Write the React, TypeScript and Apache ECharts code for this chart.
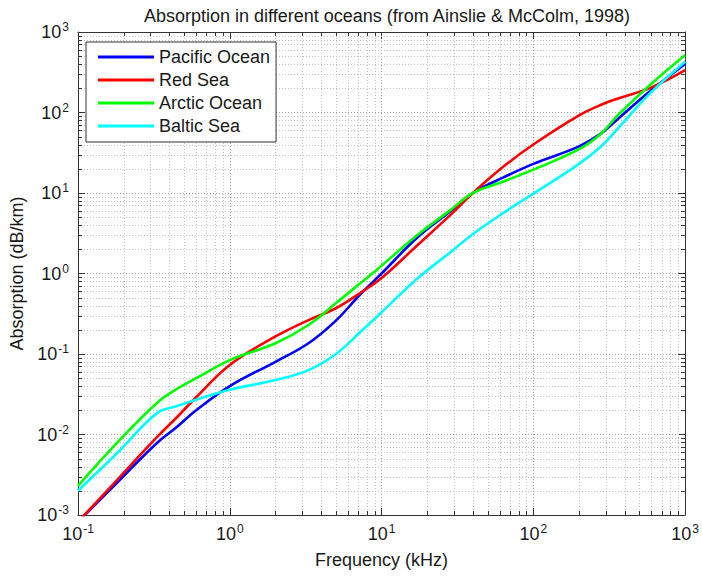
import React, { useEffect, useRef } from "react";
import * as echarts from "echarts";

// Frequencies (kHz) at which the curves were read
const FREQ_KHZ = [0.1, 0.18, 0.33, 0.45, 0.6, 1, 2, 3.3, 5, 7.3, 10, 17, 28, 40, 63, 100, 200, 280, 365, 600, 1000];
// Absorption (dB/km)
const PACIFIC = [0.00082, 0.0025, 0.0078, 0.0125, 0.02, 0.04, 0.08, 0.136, 0.26, 0.56, 1.0, 2.74, 5.8, 10, 15.5, 23, 38, 55, 85, 190, 400];
const RED_SEA = [0.00082, 0.0027, 0.0092, 0.0165, 0.029, 0.073, 0.165, 0.264, 0.37, 0.58, 0.88, 2.2, 5.2, 10, 21, 40, 92, 125, 150, 205, 335];
const ARCTIC = [0.0023, 0.0078, 0.0245, 0.037, 0.05, 0.084, 0.136, 0.229, 0.427, 0.766, 1.25, 2.95, 6.0, 10, 13.8, 19.5, 35, 55, 95, 228, 518];
const BALTIC = [0.002, 0.0058, 0.0183, 0.0226, 0.027, 0.036, 0.0475, 0.063, 0.1, 0.19, 0.33, 0.85, 1.8, 3.1, 5.6, 9.8, 23, 38, 65, 180, 428];

const SERIES_NAMES = ["Pacific Ocean", "Red Sea", "Arctic Ocean", "Baltic Sea"];
const SERIES_VALUES = [PACIFIC, RED_SEA, ARCTIC, BALTIC];
const SERIES_COLORS = ["#0000ff", "#ff0000", "#00ff00", "#00ffff"];

const X_MIN = 0.1;
const X_MAX = 1000;
const Y_MIN = 0.001;
const Y_MAX = 1000;
const X_DECADES = [0.1, 1, 10, 100];
const Y_DECADES = [0.001, 0.01, 0.1, 1, 10, 100];
const MINOR_MULT = [2, 3, 4, 5, 6, 7, 8, 9];

const TITLE = "Absorption in different oceans (from Ainslie & McColm, 1998)";
const X_NAME = "Frequency (kHz)";
const Y_NAME = "Absorption (dB/km)";

const FONT = "'Liberation Sans', Arial, Helvetica, sans-serif";
const AXIS_COLOR = "#333333";
const TEXT_COLOR = "#1a1a1a";

const X_MINOR = X_DECADES.flatMap((d) => MINOR_MULT.map((m) => m * d));
const Y_MINOR = Y_DECADES.flatMap((d) => MINOR_MULT.map((m) => m * d));

const expLabel = (v: number) => {
  const e = Math.round(Math.log10(v));
  return `{b|10}{s|${e}}`;
};

const labelRich = {
  b: { fontSize: 18, fontFamily: FONT, color: TEXT_COLOR, lineHeight: 22 },
  s: { fontSize: 12, fontFamily: FONT, color: TEXT_COLOR, verticalAlign: "top" as const, lineHeight: 22, padding: [0, 0, 0, 1] },
};

const px = (v: number) => Math.round(v) + 0.5;

export default function App() {
  const ref = useRef<HTMLDivElement>(null);

  useEffect(() => {
    if (!ref.current) return;
    const chart = echarts.init(ref.current, undefined, { renderer: "svg" });

    const lineSeries = SERIES_NAMES.map((name, i) => ({
      name,
      type: "line",
      xAxisIndex: 0,
      yAxisIndex: 0,
      data: FREQ_KHZ.map((f, j) => [f, SERIES_VALUES[i][j]]),
      showSymbol: false,
      symbol: "none",
      smooth: 0.4,
      lineStyle: { color: SERIES_COLORS[i], width: 2.6 },
      itemStyle: { color: SERIES_COLORS[i] },
      z: 5,
    }));

    const minorX = {
      type: "custom",
      xAxisIndex: 0,
      yAxisIndex: 0,
      silent: true,
      z: 1,
      clip: false,
      data: X_MINOR.map((v) => [v, 1]),
      renderItem: (_p: any, api: any) => {
        const v = api.value(0);
        const t = api.coord([v, Y_MAX]);
        const b = api.coord([v, Y_MIN]);
        const x = px(t[0]);
        return {
          type: "group",
          children: [
            { type: "line", shape: { x1: x, y1: t[1], x2: x, y2: b[1] }, style: { stroke: "#c2c2c2", lineWidth: 1, lineDash: [1, 2] } },
            { type: "line", shape: { x1: x, y1: b[1], x2: x, y2: b[1] - 4 }, style: { stroke: AXIS_COLOR, lineWidth: 1 } },
            { type: "line", shape: { x1: x, y1: t[1], x2: x, y2: t[1] + 4 }, style: { stroke: AXIS_COLOR, lineWidth: 1 } },
          ],
        };
      },
    };

    const minorY = {
      type: "custom",
      xAxisIndex: 0,
      yAxisIndex: 0,
      silent: true,
      z: 1,
      clip: false,
      data: Y_MINOR.map((v) => [1, v]),
      renderItem: (_p: any, api: any) => {
        const v = api.value(1);
        const l = api.coord([X_MIN, v]);
        const r = api.coord([X_MAX, v]);
        const y = px(l[1]);
        return {
          type: "group",
          children: [
            { type: "line", shape: { x1: l[0], y1: y, x2: r[0], y2: y }, style: { stroke: "#c2c2c2", lineWidth: 1, lineDash: [1, 2] } },
            { type: "line", shape: { x1: l[0], y1: y, x2: l[0] + 4, y2: y }, style: { stroke: AXIS_COLOR, lineWidth: 1 } },
            { type: "line", shape: { x1: r[0], y1: y, x2: r[0] - 4, y2: y }, style: { stroke: AXIS_COLOR, lineWidth: 1 } },
          ],
        };
      },
    };

    const baseLog = (extra: any) => ({
      type: "log",
      logBase: 10,
      axisLine: { show: true, lineStyle: { color: AXIS_COLOR, width: 1 } },
      axisTick: { show: true, inside: true, length: 7, lineStyle: { color: AXIS_COLOR, width: 1 } },
      minorTick: { show: false },
      ...extra,
    });

    chart.setOption({
      animation: false,
      backgroundColor: "#ffffff",
      textStyle: { fontFamily: FONT },
      title: {
        text: TITLE,
        left: 382,
        textAlign: "center",
        top: 2,
        textStyle: { fontSize: 18, fontWeight: "normal", color: TEXT_COLOR, fontFamily: FONT },
      },
      legend: {
        data: SERIES_NAMES,
        orient: "vertical",
        left: 86,
        top: 42,
        icon: "rect",
        itemWidth: 56,
        itemHeight: 3,
        itemGap: 3,
        padding: [5, 6, 6, 12],
        backgroundColor: "#ffffff",
        borderColor: AXIS_COLOR,
        borderWidth: 1,
        borderRadius: 0,
        textStyle: { fontSize: 18, color: TEXT_COLOR, fontFamily: FONT, lineHeight: 20 },
        selectedMode: false,
        z: 10,
      },
      grid: { left: 78, right: 12, top: 32, bottom: 63, containLabel: false },
      xAxis: [
        baseLog({
          min: X_MIN,
          max: X_MAX,
          position: "bottom",
          name: X_NAME,
          nameLocation: "middle",
          nameGap: 36,
          nameTextStyle: { fontSize: 18, color: TEXT_COLOR, fontFamily: FONT },
          axisLabel: { show: true, margin: 8, formatter: expLabel, rich: labelRich },
          splitLine: { show: true, lineStyle: { color: "#a0a0a0", width: 1, type: [1, 2] } },
        }),
        baseLog({
          min: X_MIN,
          max: X_MAX,
          position: "top",
          axisLabel: { show: false },
          splitLine: { show: false },
        }),
      ],
      yAxis: [
        baseLog({
          min: Y_MIN,
          max: Y_MAX,
          position: "left",
          name: Y_NAME,
          nameLocation: "middle",
          nameGap: 42,
          nameRotate: 90,
          nameTextStyle: { fontSize: 18, color: TEXT_COLOR, fontFamily: FONT },
          axisLabel: { show: true, margin: 9, formatter: expLabel, rich: labelRich },
          splitLine: { show: true, lineStyle: { color: "#a0a0a0", width: 1, type: [1, 2] } },
        }),
        baseLog({
          min: Y_MIN,
          max: Y_MAX,
          position: "right",
          axisLabel: { show: false },
          splitLine: { show: false },
        }),
      ],
      series: [minorX, minorY, ...lineSeries],
    });

    return () => chart.dispose();
  }, []);

  return (
    <div
      ref={ref}
      style={{ position: "fixed", left: 0, top: 0, width: 702, height: 578, background: "#fff" }}
    />
  );
}
